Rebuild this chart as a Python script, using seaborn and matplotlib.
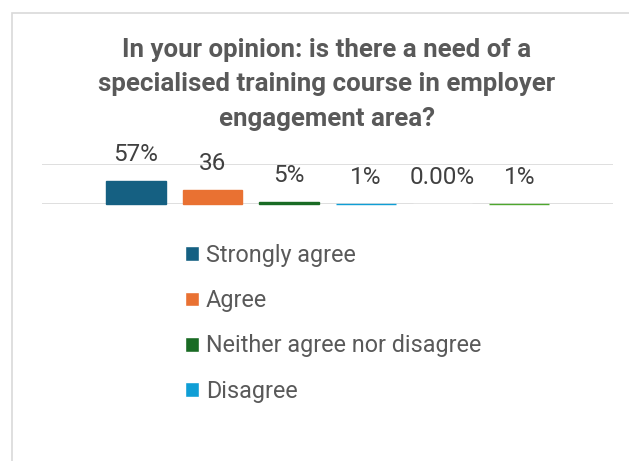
import matplotlib
matplotlib.use("Agg")
import matplotlib.pyplot as plt
from matplotlib.patches import Rectangle
import pandas as pd
import seaborn as sns

# Survey responses (share of respondents, %)
responses = ["Strongly agree", "Agree", "Neither agree nor disagree",
             "Disagree", "Strongly disagree", "Don't know"]
shares = [57, 36, 5, 1, 0, 1]
value_labels = ["57%", "36", "5%", "1%", "0.00%", "1%"]
colors = ["#156082", "#E97132", "#196B24", "#0F9ED5", "#A02B93", "#4EA72E"]
title = "In your opinion: is there a need of a\nspecialised training course in employer\nengagement area?"

sns.set_theme(style="white")
plt.rcParams["font.family"] = ["Roboto", "DejaVu Sans"]

W, H = 629, 461
fig = plt.figure(figsize=(W / 100, H / 100), dpi=100)
fig.patch.set_facecolor("white")

# chart border
fig.add_artist(Rectangle((12 / W, -0.1), 1.2, 1.1 - 13 / H, transform=fig.transFigure,
                         fill=False, edgecolor="#d9d9d9", linewidth=1.2))

ax = fig.add_axes([42 / W, 1 - 204 / H, (613 - 42) / W, 40 / H])
df = pd.DataFrame({"question": ["q"] * len(responses), "response": responses, "share": shares})
sns.barplot(data=df, x="question", y="share", hue="response", hue_order=responses,
            palette=colors, width=0.806, gap=0.22, saturation=1, ax=ax)

ax.set_xlim(-0.5, 0.5)
ax.set_ylim(0, 100)
ax.set_yticks([0, 100])
ax.set_xticks([])
ax.tick_params(left=False, bottom=False, labelleft=False)
ax.set_xlabel("")
ax.set_ylabel("")
for s in ax.spines.values():
    s.set_visible(False)
ax.grid(axis="y", color="#d9d9d9", linewidth=1.2)
ax.set_axisbelow(True)
ax.patch.set_alpha(0)

for cont, lab, col in zip(ax.containers, value_labels, colors):
    bar = cont[0]
    if bar.get_height() > 0:
        bar.set_edgecolor(col)
        bar.set_linewidth(1.0)
        bar.set_zorder(3)
        bar.set_clip_on(False)
    cx = bar.get_x() + bar.get_width() / 2
    ax.annotate(lab, (cx, bar.get_height()), xytext=(0, 19), textcoords="offset points",
                ha="center", va="center", fontsize=17.5, color="#404040",
                annotation_clip=False)

handles, labels = ax.get_legend_handles_labels()
ax.get_legend().remove()
fig.legend(handles[:4], labels[:4], loc="upper left",
           bbox_to_anchor=(185 / W, 1 - 244 / H), frameon=False,
           fontsize=16.8, labelcolor="#595959", handlelength=0.6, handleheight=0.6,
           handletextpad=0.3, labelspacing=0.95, borderaxespad=0, borderpad=0)

fig.text(327 / W, 1 - 38 / H, title, ha="center", va="top", fontsize=18.6,
         fontweight="bold", color="#595959", linespacing=1.55,
         transform=fig.transFigure)

fig.savefig("out.png", dpi=100, facecolor="white")
